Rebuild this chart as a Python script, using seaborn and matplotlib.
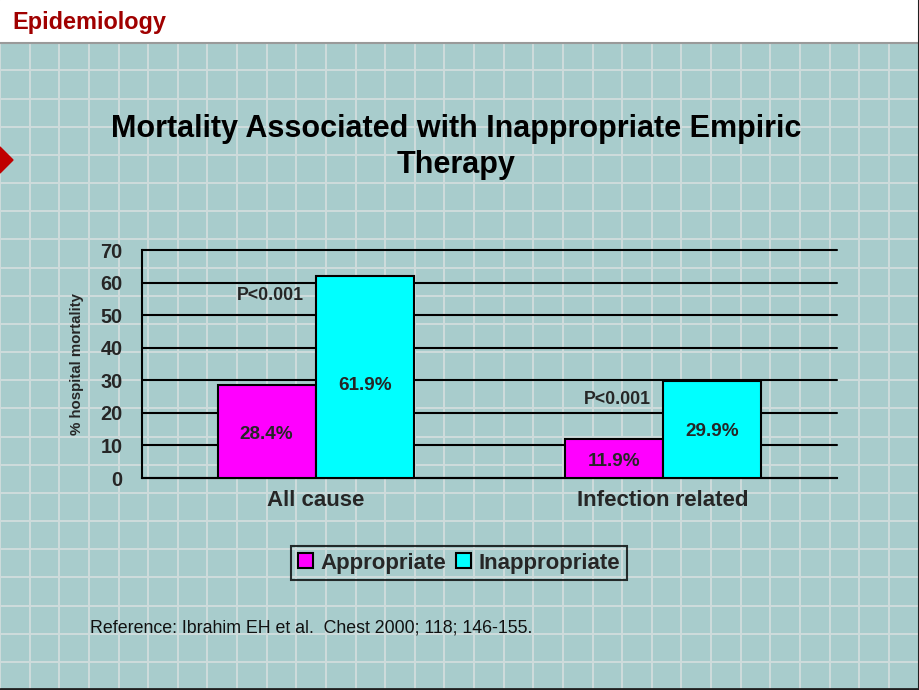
import numpy as np
import pandas as pd
import matplotlib
matplotlib.use('Agg')
import matplotlib.pyplot as plt
from matplotlib.patches import Rectangle, Polygon
import seaborn as sns

# Chart data
categories = ['All cause', 'Infection related']
groups = ['Appropriate', 'Inappropriate']
appropriate = [28.4, 11.9]
inappropriate = [61.9, 29.9]
p_values = ['P<0.001', 'P<0.001']
y_ticks = [0, 10, 20, 30, 40, 50, 60, 70]

df = pd.DataFrame({
    'category': categories * 2,
    'group': [groups[0]] * len(categories) + [groups[1]] * len(categories),
    'value': appropriate + inappropriate,
})

sns.set_theme(style='white')
plt.rcParams['font.family'] = ['Liberation Sans', 'DejaVu Sans']

W, H = 920, 690
fig = plt.figure(figsize=(W / 100, H / 100), dpi=100)

# Slide background: teal with a light grid, white header band
bg = fig.add_axes([0, 0, 1, 1])
bg.set_xlim(0, W)
bg.set_ylim(H, 0)
bg.axis('off')
bg.add_patch(Rectangle((0, 0), W, H, color='#a8cccc', zorder=0))
for x in np.arange(0, W, 29.63):
    bg.plot([x, x], [42, H], color='#cfdcdc', lw=1.4, zorder=1)
for y in np.arange(42.2 + 28.17, H, 28.17):
    bg.plot([0, W], [y, y], color='#cfdcdc', lw=1.4, zorder=1)
bg.add_patch(Rectangle((0, 0), W, 42, color='white', zorder=2))
bg.plot([0, W], [42.5, 42.5], color='#9a9a9a', lw=1.5, zorder=3)
bg.plot([0, W], [688.5, 688.5], color='#202020', lw=2, zorder=3)
bg.plot([919, 919], [0, H], color='#202020', lw=1.5, zorder=3)
bg.add_patch(Polygon([(-13, 160), (0, 147), (13, 160), (0, 173)],
                     closed=True, color='#c00000', zorder=3))
bg.text(12, 22, 'Epidemiology', color='#a00000', fontsize=16.9,
        fontweight='bold', ha='left', va='center', zorder=4)
bg.text(456, 147, 'Mortality Associated with Inappropriate Empiric\nTherapy',
        fontsize=22, fontweight='bold', ha='center', va='center',
        linespacing=1.25, color='black', zorder=4)
bg.text(90, 628, 'Reference: Ibrahim EH et al.  Chest 2000; 118; 146-155.',
        fontsize=12.8, ha='left', va='center', color='#111111', zorder=4)

# Main chart
ax = fig.add_axes([142 / W, 1 - 478 / H, (837 - 142) / W, (478 - 250) / H])
ax.patch.set_alpha(0)
sns.barplot(data=df, x='category', y='value', hue='group', order=categories,
            hue_order=groups, palette={'Appropriate': '#ff00ff', 'Inappropriate': '#00ffff'},
            saturation=1, width=0.565, edgecolor='black', linewidth=1.5, ax=ax, zorder=3)

ax.set_xlim(-0.5, len(categories) - 0.5)
ax.set_ylim(0, 70)
ax.set_yticks(y_ticks)
ax.yaxis.grid(True, color='black', lw=1.5)
for gl in ax.get_ygridlines():
    gl.set_clip_on(False)
ax.set_axisbelow(True)
for s in ['top', 'right']:
    ax.spines[s].set_visible(False)
for s in ['left', 'bottom']:
    ax.spines[s].set_color('black')
    ax.spines[s].set_linewidth(1.5)
ax.tick_params(axis='y', direction='out', length=5, width=1.5, color='black',
               pad=9, labelsize=14.3)
ax.tick_params(axis='x', which='major', length=0, pad=9, labelsize=16)
ax.set_xticks(np.arange(-0.5, len(categories)), minor=True)
ax.tick_params(axis='x', which='minor', direction='out', length=5, width=1.5, color='black')
for lab in ax.get_yticklabels() + ax.get_xticklabels():
    lab.set_fontweight('bold')
ax.set_xlabel('')
ax.set_ylabel('% hospital mortality', fontsize=10.8, fontweight='bold', labelpad=12)

# Value labels inside bars
for cont in ax.containers:
    for bar in cont:
        h = bar.get_height()
        ax.text(bar.get_x() + bar.get_width() / 2, min(h / 2 - 0.8, 28.5), f'{h:.1f}%',
                ha='center', va='center', fontsize=13.6, fontweight='bold', zorder=5)

# P-value notes over the appropriate bars
app_bars = ax.containers[0]
for i, p in enumerate(p_values):
    bar = app_bars[i]
    top = max(appropriate[i], inappropriate[i])
    ax.text(bar.get_x() + bar.get_width() / 2 + 0.01, top - 5.8, p,
            ha='center', va='center', fontsize=12.8, fontweight='bold', zorder=5)

leg = ax.legend(loc='center', bbox_to_anchor=(459 / W, 1 - 563 / H),
                bbox_transform=fig.transFigure, ncol=2, frameon=True,
                fancybox=False, handlelength=0.65, handleheight=0.65,
                handletextpad=0.35, columnspacing=0.45, borderpad=0.3,
                borderaxespad=0, prop={'size': 16, 'weight': 'bold'})
leg.get_frame().set_edgecolor('black')
leg.get_frame().set_linewidth(1.5)
leg.get_frame().set_facecolor('none')
leg.set_title(None)

fig.savefig('out.png', dpi=100)
